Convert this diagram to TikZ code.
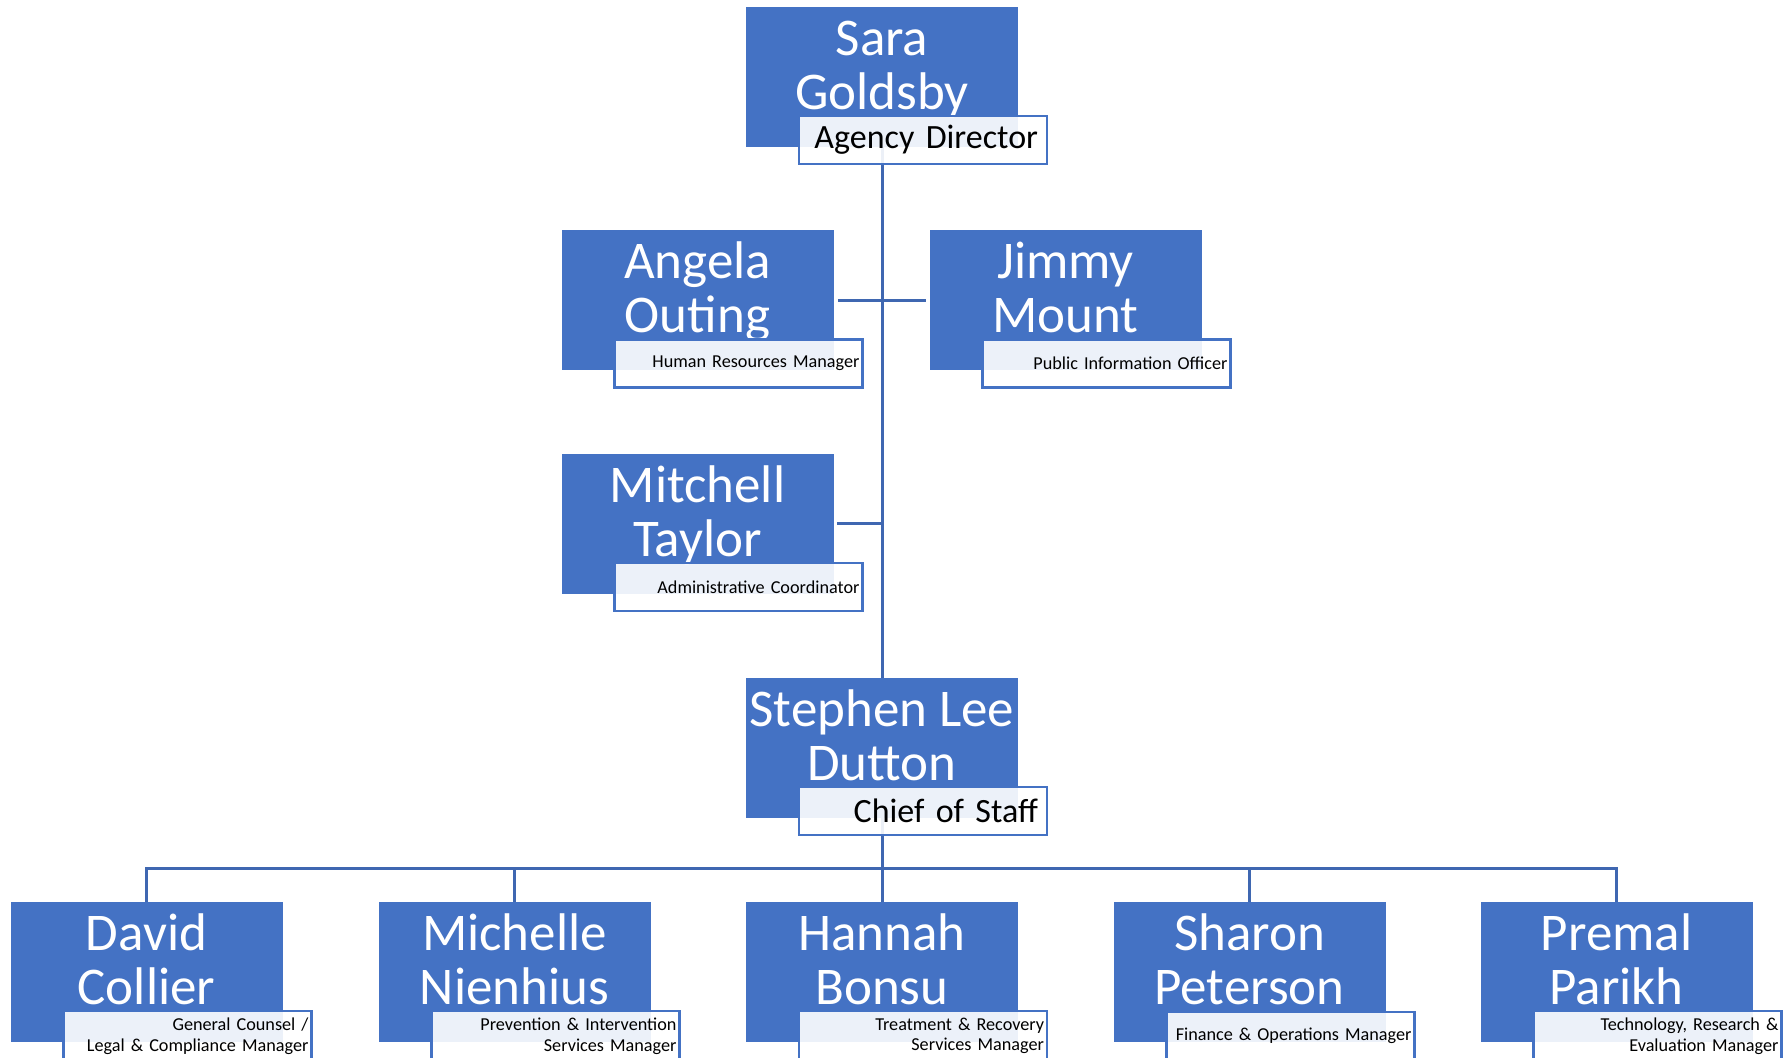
\documentclass[tikz,border=0pt]{standalone}
\usepackage{fontspec}
\setmainfont{Carlito}
\definecolor{boxblue}{HTML}{4472C4}
\definecolor{lineblue}{HTML}{3F67B1}

\begin{document}
\begin{tikzpicture}[x=0.5pt,y=-0.5pt,
    namebox/.style={fill=boxblue,minimum width=136pt,minimum height=70pt,inner sep=0pt},
    nametext/.style={anchor=north,yshift=-5.2pt,inner sep=0pt,text=white,align=center,%
      font=\fontsize{26.5}{27}\selectfont},
    title/.style={draw=boxblue,line width=1.2pt,fill=white,fill opacity=0.9,text opacity=1,%
      minimum width=124pt,minimum height=24pt,inner xsep=1.5pt,text width=121pt,align=right,%
      font={\fontsize{9.1}{10.3}\selectfont\hyphenpenalty10000\relax}},
    bigtitle/.style={title,inner xsep=4.5pt,text width=115pt,font=\fontsize{17}{19}\selectfont},
    conn/.style={draw=lineblue,line width=1.5pt}]
      \useasboundingbox (0,0) rectangle (1789,1058) ;
      % boxes
      \node[namebox] (sara) at (882,77) {} ;
      \node[nametext] (saraN) at (sara.north) {\strut Sara\\Goldsby} ;
      \node[namebox] (angela) at (697.5,300.5) {} ;
      \node[nametext] (angelaN) at (angela.north) {\strut Angela\\Outing} ;
      \node[namebox] (jimmy) at (1065.5,300.5) {} ;
      \node[nametext] (jimmyN) at (jimmy.north) {\strut Jimmy\\Mount} ;
      \node[namebox] (mitchell) at (697.5,524) {} ;
      \node[nametext] (mitchellN) at (mitchell.north) {\strut Mitchell\\Taylor} ;
      \node[namebox] (stephen) at (882,748) {} ;
      \node[nametext] (stephenN) at (stephen.north) {\strut Stephen Lee\\Dutton} ;
      \node[namebox] (david) at (146.5,972) {} ;
      \node[nametext] (davidN) at (david.north) {\strut David\\Collier} ;
      \node[namebox] (michelle) at (514.5,972) {} ;
      \node[nametext] (michelleN) at (michelle.north) {\strut Michelle\\Nienhius} ;
      \node[namebox] (hannah) at (882,972) {} ;
      \node[nametext] (hannahN) at (hannah.north) {\strut Hannah\\Bonsu} ;
      \node[namebox] (sharon) at (1249.5,972) {} ;
      \node[nametext] (sharonN) at (sharon.north) {\strut Sharon\\Peterson} ;
      \node[namebox] (premal) at (1616.5,972) {} ;
      \node[nametext] (premalN) at (premal.north) {\strut Premal\\Parikh} ;
      % connectors
      \draw[conn] (sara.south) -- (stephen.north) ;
      \draw[conn,shorten <=2pt,shorten >=1.5pt] (angela.east) -- (jimmy.west) ;
      \draw[conn,shorten <=1.5pt] (mitchell.east) -- (mitchell.east -| sara.south) ;
      \draw[conn] (stephen.south) -- ++(0,50) coordinate (bus) ;
      \foreach \c in {david,michelle,hannah,sharon,premal}
        \draw[conn] (bus) -| (\c.north) ;
      % titles
      \node[bigtitle] (saraT) at ([shift={(41,63)}]sara.center) {Agency Director} ;
      \node[title] (angelaT) at ([shift={(41,63)}]angela.center) {Human Resources Manager} ;
      \node[title] (jimmyT) at ([shift={(41,63)}]jimmy.center) {Public Information Officer} ;
      \node[title] (mitchellT) at ([shift={(41,63)}]mitchell.center) {Administrative Coordinator} ;
      \node[bigtitle] (stephenT) at ([shift={(41,63)}]stephen.center) {Chief of Staff} ;
      \node[title] (davidT) at ([shift={(41,64)}]david.center) %
        {General Counsel /\\Legal \& Compliance Manager} ;
      \node[title] (michelleT) at ([shift={(41,64)}]michelle.center) %
        {Prevention \& Intervention\\Services Manager} ;
      \node[title] (hannahT) at ([shift={(41,64)}]hannah.center) %
        {Treatment \& Recovery\\Services Manager} ;
      \node[title] (sharonT) at ([shift={(41,64)}]sharon.center) %
        {Finance \& Operations Manager} ;
      \node[title] (premalT) at ([shift={(41,64)}]premal.center) %
        {Technology, Research \&\\Evaluation Manager} ;
    \end{tikzpicture}
\end{document}
